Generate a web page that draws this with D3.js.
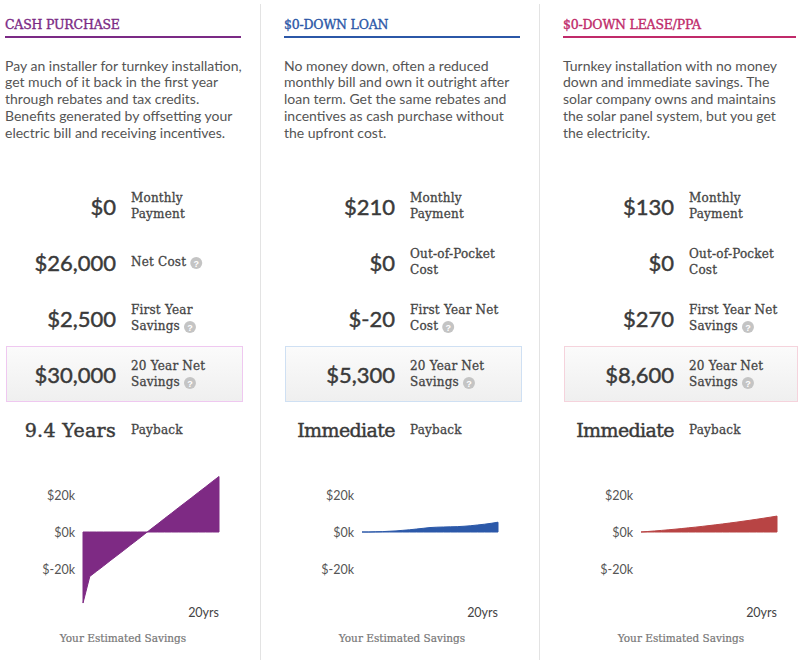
<!DOCTYPE html>
<html>
<head>
<meta charset="utf-8">
<script src="https://cdn.jsdelivr.net/npm/d3@7/dist/d3.min.js"></script>
<style>
  html, body { margin: 0; padding: 0; background: #fff; }
  svg { display: block; }
</style>
</head>
<body>
<svg id="chart" width="800" height="662"></svg>
<script>
// ---------- DATA ----------
const planTitles = ["CASH PURCHASE", "$0-DOWN LOAN", "$0-DOWN LEASE/PPA"];
const planColors = ["#7b2a85", "#2b57a7", "#c02a6a"];
const areaColors = ["#7e2a84", "#2c59a9", "#b84444"];
const boxBorders = ["#efc8f0", "#cfe0f3", "#f5d3dc"];

const descriptions = [
  ["Pay an installer for turnkey installation,", "get much of it back in the first year", "through rebates and tax credits.", "Benefits generated by offsetting your", "electric bill and receiving incentives."],
  ["No money down, often a reduced", "monthly bill and own it outright after", "loan term. Get the same rebates and", "incentives as cash purchase without", "the upfront cost."],
  ["Turnkey installation with no money", "down and immediate savings. The", "solar company owns and maintains", "the solar panel system, but you get", "the electricity."]
];

const monthlyPayment = ["$0", "$210", "$130"];
const costValue = ["$26,000", "$0", "$0"];
const costLabel = [["Net Cost"], ["Out-of-Pocket", "Cost"], ["Out-of-Pocket", "Cost"]];
const costHelp = [true, false, false];
const firstYearValue = ["$2,500", "$-20", "$270"];
const firstYearLabel = [["First Year", "Savings"], ["First Year Net", "Cost"], ["First Year Net", "Savings"]];
const twentyYearValue = ["$30,000", "$5,300", "$8,600"];
const paybackValue = ["9.4 Years", "Immediate", "Immediate"];

const years = [0,1,2,3,4,5,6,7,8,9,10,11,12,13,14,15,16,17,18,19,20];
const cashSavings  = [-38400,-24000,-21200,-18400,-15500,-12700,-9900,-7000,-4200,-1300,1600,4400,7300,10100,13000,15800,18600,21500,24300,27200,30000];
const loanSavings  = [0,-20,100,200,400,600,900,1200,1600,2000,2400,2600,2700,2800,2900,3100,3400,3800,4200,4700,5300];
const leaseSavings = [0,270,560,860,1180,1520,1870,2250,2630,3040,3460,3900,4350,4830,5310,5820,6340,6880,7440,8010,8600];
const savingsSeries = [cashSavings, loanSavings, leaseSavings];

const yTickValues = [20000, 0, -20000];
const yTickLabels = ["$20k", "$0k", "$-20k"];
const xEndLabel = "20yrs";
const chartCaption = "Your Estimated Savings";

// ---------- LAYOUT ----------
const svg = d3.select("#chart");
svg.append("rect").attr("width", 800).attr("height", 662).attr("fill", "#fff");

const defs = svg.append("defs");
const grad = defs.append("linearGradient").attr("id", "boxgrad").attr("x1", 0).attr("y1", 0).attr("x2", 0).attr("y2", 1);
grad.append("stop").attr("offset", "0%").attr("stop-color", "#fbfbfb");
grad.append("stop").attr("offset", "100%").attr("stop-color", "#efefef");

const slab = "'DejaVu Serif', serif";
const sans = "Lato, 'Open Sans', sans-serif";

const colX = [5, 284, 563];
const colW = [237, 237, 234];

// dividers
[260.5, 539.5].forEach(x => {
  svg.append("line").attr("x1", x).attr("x2", x).attr("y1", 4).attr("y2", 660)
    .attr("stroke", "#e3e3e3").attr("stroke-width", 1);
});

const rowY = [206, 262, 318, 374, 430];
const valRight = 111;
const labelX = 126;

function helpIcon(g, x, y) {
  g.append("circle").attr("cx", x).attr("cy", y).attr("r", 6).attr("fill", "#c4c4c4");
  g.append("text").attr("x", x).attr("y", y + 0.5).attr("text-anchor", "middle")
    .attr("dominant-baseline", "central").attr("font-family", "Arial, sans-serif")
    .attr("font-weight", "bold").attr("font-size", 9).attr("fill", "#fff").text("?");
}

function statRow(g, y, value, lines, help, valueFont, valueSize, spacing) {
  g.append("text").attr("x", valRight).attr("y", y).attr("text-anchor", "end")
    .attr("dominant-baseline", "central").attr("font-family", valueFont || sans)
    .attr("font-size", valueSize || 22).attr("fill", "#3a3a3a")
    .attr("letter-spacing", spacing || 0)
    .attr("stroke", "#3a3a3a").attr("stroke-width", 0.45).text(value);
  const off = lines.length === 2 ? [-8, 8] : [0];
  let last;
  lines.forEach((l, i) => {
    last = g.append("text").attr("x", labelX).attr("y", y + off[i]).attr("dominant-baseline", "central")
      .attr("font-family", slab).attr("font-size", 12).attr("fill", "#454545")
      .attr("stroke", "#454545").attr("stroke-width", 0.3)
      .attr("letter-spacing", 0.2).text(l);
  });
  if (help) {
    const w = last.node().getComputedTextLength();
    helpIcon(g, labelX + w + 10, y + off[off.length - 1] + 1);
  }
}

planTitles.forEach((title, i) => {
  const g = svg.append("g").attr("transform", `translate(${colX[i]},0)`);
  const W = colW[i];

  // header
  g.append("text").attr("x", 0).attr("y", 24).attr("dominant-baseline", "central")
    .attr("font-family", slab).attr("font-size", 12.5).attr("fill", planColors[i])
    .attr("stroke", planColors[i]).attr("stroke-width", 0.35)
    .attr("letter-spacing", -0.2).text(title);
  g.append("rect").attr("x", 0).attr("y", 36).attr("width", W - 1).attr("height", 2).attr("fill", planColors[i]);

  // description
  descriptions[i].forEach((line, k) => {
    g.append("text").attr("x", 0).attr("y", 65 + k * 16.8).attr("dominant-baseline", "central")
      .attr("font-family", sans).attr("font-size", 14).attr("fill", "#555").text(line);
  });

  // highlight box
  g.append("rect").attr("x", 1.5).attr("y", 346.5).attr("width", W - 1).attr("height", 55)
    .attr("fill", "url(#boxgrad)").attr("stroke", boxBorders[i]).attr("stroke-width", 1);

  statRow(g, rowY[0], monthlyPayment[i], ["Monthly", "Payment"], false);
  statRow(g, rowY[1], costValue[i], costLabel[i], costHelp[i]);
  statRow(g, rowY[2], firstYearValue[i], firstYearLabel[i], true);
  statRow(g, rowY[3], twentyYearValue[i], ["20 Year Net", "Savings"], true);
  statRow(g, rowY[4], paybackValue[i], ["Payback"], false, slab, 19, i === 0 ? 0.3 : -0.6);

  // mini chart
  const x = d3.scaleLinear().domain([0, 20]).range([78, 214]);
  const y = d3.scaleLinear().domain([-40000, 40000]).range([606, 458]);
  const data = years.map((yr, k) => ({ yr, v: savingsSeries[i][k] }));

  const area = d3.area().x(d => x(d.yr)).y0(y(0)).y1(d => y(d.v));
  g.append("path").datum(data).attr("d", area).attr("fill", areaColors[i])
    .attr("stroke", areaColors[i]).attr("stroke-width", 1).attr("stroke-linejoin", "round");

  const axis = d3.axisLeft(y).tickValues(yTickValues).tickSize(0).tickPadding(0)
    .tickFormat((d, k) => yTickLabels[k]);
  const ax = g.append("g").attr("transform", "translate(70,0)").call(axis);
  ax.select(".domain").remove();
  ax.selectAll("text").attr("font-family", sans).attr("font-size", 12.5).attr("fill", "#555");

  g.append("text").attr("x", x(20)).attr("y", 612).attr("text-anchor", "end")
    .attr("dominant-baseline", "central").attr("font-family", sans).attr("font-size", 12.5)
    .attr("fill", "#444").text(xEndLabel);

  g.append("text").attr("x", (x(0) + x(20)) / 2 - 28).attr("y", 638).attr("text-anchor", "middle")
    .attr("dominant-baseline", "central").attr("font-family", slab).attr("font-size", 10.5)
    .attr("fill", "#777").attr("stroke", "#777").attr("stroke-width", 0.2).text(chartCaption);
});
</script>
</body>
</html>
